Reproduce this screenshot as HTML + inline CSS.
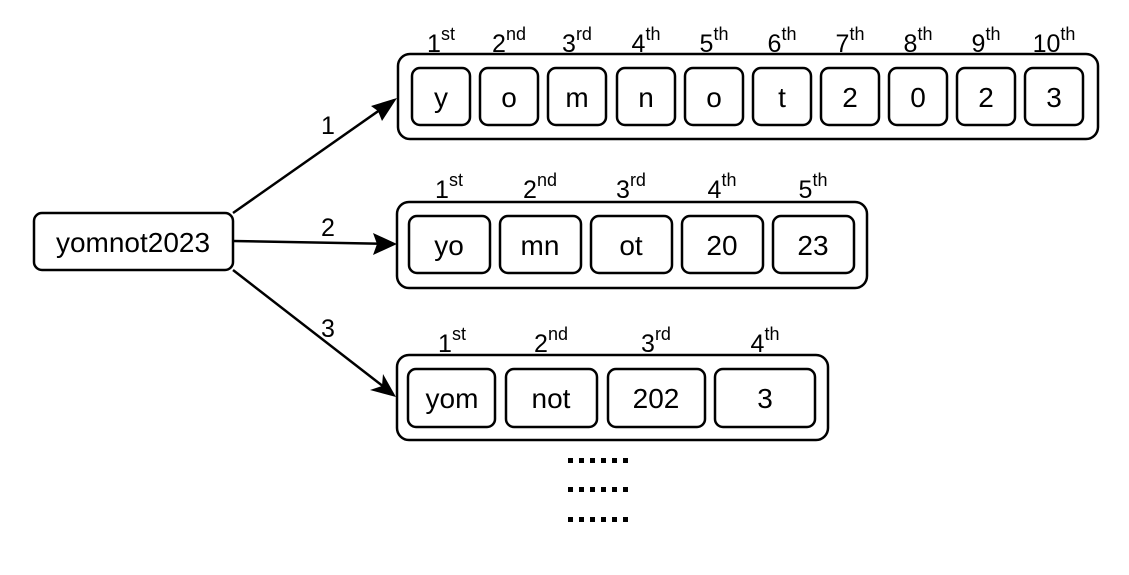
<!DOCTYPE html>
<html><head><meta charset="utf-8"><style>html,body{margin:0;padding:0;background:#fff}svg{display:block}</style></head>
<body>
<svg width="1129" height="575" xmlns="http://www.w3.org/2000/svg" font-family="Liberation Sans, Arial, sans-serif" fill="none" stroke="#000" stroke-width="2.5">
<style>.c{font-size:28px;fill:#000;stroke:none;text-anchor:middle}.o{font-size:25px;fill:#000;stroke:none;text-anchor:middle}.s{font-size:18px}.n{font-size:25px;fill:#000;stroke:none;text-anchor:middle}</style>
<rect x="34" y="213" width="199" height="57" rx="8"/>
<text class="c" x="133" y="252">yomnot2023</text>
<g stroke-width="2.5">
<line x1="233" y1="213" x2="394" y2="100"/><path d="M397,98 L371,106 L378,111 L382,121 Z" fill="#000" stroke="none"/>
<line x1="233" y1="241" x2="392" y2="244"/><path d="M397,244 L373,233 L377,244 L373,255 Z" fill="#000" stroke="none"/>
<line x1="233" y1="270" x2="393" y2="394"/><path d="M396,397 L383,374 L382,386 L370,390 Z" fill="#000" stroke="none"/>
</g>
<text class="n" x="328" y="134">1</text><text class="n" x="328" y="236">2</text><text class="n" x="328" y="337">3</text>
<rect x="398" y="54" width="700" height="85" rx="12"/>
<rect x="412" y="68" width="58" height="57" rx="8"/><rect x="480" y="68" width="58" height="57" rx="8"/><rect x="548" y="68" width="58" height="57" rx="8"/><rect x="617" y="68" width="58" height="57" rx="8"/><rect x="685" y="68" width="58" height="57" rx="8"/><rect x="753" y="68" width="58" height="57" rx="8"/><rect x="821" y="68" width="58" height="57" rx="8"/><rect x="889" y="68" width="58" height="57" rx="8"/><rect x="957" y="68" width="58" height="57" rx="8"/><rect x="1025" y="68" width="58" height="57" rx="8"/>
<text class="c" y="107"><tspan x="441">y</tspan><tspan x="509">o</tspan><tspan x="577">m</tspan><tspan x="646">n</tspan><tspan x="714">o</tspan><tspan x="782">t</tspan><tspan x="850">2</tspan><tspan x="918">0</tspan><tspan x="986">2</tspan><tspan x="1054">3</tspan></text>
<text class="o" x="441" y="52">1<tspan class="s" dy="-12">st</tspan></text>
<text class="o" x="509" y="52">2<tspan class="s" dy="-12">nd</tspan></text>
<text class="o" x="577" y="52">3<tspan class="s" dy="-12">rd</tspan></text>
<text class="o" x="646" y="52">4<tspan class="s" dy="-12">th</tspan></text>
<text class="o" x="714" y="52">5<tspan class="s" dy="-12">th</tspan></text>
<text class="o" x="782" y="52">6<tspan class="s" dy="-12">th</tspan></text>
<text class="o" x="850" y="52">7<tspan class="s" dy="-12">th</tspan></text>
<text class="o" x="918" y="52">8<tspan class="s" dy="-12">th</tspan></text>
<text class="o" x="986" y="52">9<tspan class="s" dy="-12">th</tspan></text>
<text class="o" x="1054" y="52">10<tspan class="s" dy="-12">th</tspan></text>
<rect x="397" y="202" width="470" height="86" rx="12"/>
<rect x="409" y="216" width="81" height="57" rx="8"/><rect x="500" y="216" width="81" height="57" rx="8"/><rect x="591" y="216" width="81" height="57" rx="8"/><rect x="682" y="216" width="81" height="57" rx="8"/><rect x="773" y="216" width="81" height="57" rx="8"/>
<text class="c" y="255"><tspan x="449">yo</tspan><tspan x="540">mn</tspan><tspan x="631">ot</tspan><tspan x="722">20</tspan><tspan x="813">23</tspan></text>
<text class="o" x="449" y="198">1<tspan class="s" dy="-12">st</tspan></text>
<text class="o" x="540" y="198">2<tspan class="s" dy="-12">nd</tspan></text>
<text class="o" x="631" y="198">3<tspan class="s" dy="-12">rd</tspan></text>
<text class="o" x="722" y="198">4<tspan class="s" dy="-12">th</tspan></text>
<text class="o" x="813" y="198">5<tspan class="s" dy="-12">th</tspan></text>
<rect x="397" y="355" width="431" height="85" rx="12"/>
<rect x="408" y="369" width="87" height="58" rx="8"/><rect x="506" y="369" width="91" height="58" rx="8"/><rect x="608" y="369" width="97" height="58" rx="8"/><rect x="715" y="369" width="100" height="58" rx="8"/>
<text class="c" y="408"><tspan x="452">yom</tspan><tspan x="551">not</tspan><tspan x="656">202</tspan><tspan x="765">3</tspan></text>
<text class="o" x="452" y="352">1<tspan class="s" dy="-12">st</tspan></text>
<text class="o" x="551" y="352">2<tspan class="s" dy="-12">nd</tspan></text>
<text class="o" x="656" y="352">3<tspan class="s" dy="-12">rd</tspan></text>
<text class="o" x="765" y="352">4<tspan class="s" dy="-12">th</tspan></text>
<g fill="#000" stroke="none">
<path d="M568,458h5v5h-5zM579,458h5v5h-5zM590,458h5v5h-5zM601,458h5v5h-5zM612,458h5v5h-5zM623,458h5v5h-5z"/>
<path d="M568,487h5v5h-5zM579,487h5v5h-5zM590,487h5v5h-5zM601,487h5v5h-5zM612,487h5v5h-5zM623,487h5v5h-5z"/>
<path d="M568,517h5v5h-5zM579,517h5v5h-5zM590,517h5v5h-5zM601,517h5v5h-5zM612,517h5v5h-5zM623,517h5v5h-5z"/>
</g>
</svg>
</body></html>
